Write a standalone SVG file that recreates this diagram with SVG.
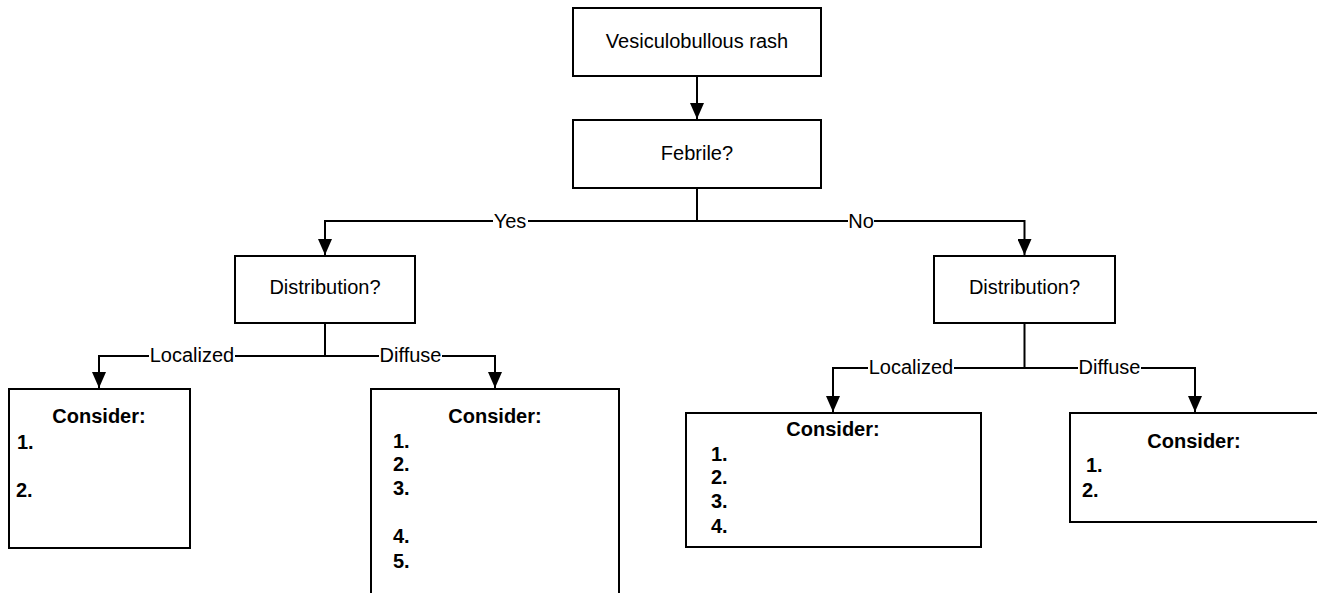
<svg xmlns="http://www.w3.org/2000/svg" width="1317" height="593" viewBox="0 0 1317 593">
<style>
.box{fill:#fff;stroke:#000;stroke-width:2}
.t{font-family:"Liberation Sans",Arial,sans-serif;font-size:20px;fill:#000}
.c{text-anchor:middle}
.b{font-weight:bold}
.ln{fill:none;stroke:#000;stroke-width:2}
.lbg{fill:#fff}
</style>
<defs>
<marker id="ah" viewBox="0 0 16 14" refX="16" refY="7" markerWidth="16" markerHeight="14" markerUnits="userSpaceOnUse" orient="auto">
<path d="M0,0 L16,7 L0,14 z" fill="#000"/>
</marker>
</defs>
<rect width="1317" height="593" fill="#fff"/>
<g id="connectors">
<path class="ln" d="M697,76 L697,119" marker-end="url(#ah)"/>
<path class="ln" d="M697,188 L697,221 L325,221 L325,255" marker-end="url(#ah)"/>
<path class="ln" d="M697,221 L1024.5,221 L1024.5,255" marker-end="url(#ah)"/>
<path class="ln" d="M325,323 L325,356 L99,356 L99,388" marker-end="url(#ah)"/>
<path class="ln" d="M325,356 L495,356 L495,388" marker-end="url(#ah)"/>
<path class="ln" d="M1024.5,323 L1024.5,368 L833,368 L833,412" marker-end="url(#ah)"/>
<path class="ln" d="M1024.5,368 L1195,368 L1195,412" marker-end="url(#ah)"/>
<rect class="lbg" x="493" y="210" width="35" height="22"/>
<text class="t c" x="510" y="228">Yes</text>
<rect class="lbg" x="848" y="210" width="26" height="22"/>
<text class="t c" x="861" y="228">No</text>
<rect class="lbg" x="149" y="345" width="86" height="22"/>
<text class="t c" x="192" y="362">Localized</text>
<rect class="lbg" x="379" y="345" width="63" height="22"/>
<text class="t c" x="410.5" y="362">Diffuse</text>
<rect class="lbg" x="868" y="357" width="86" height="22"/>
<text class="t c" x="911" y="374">Localized</text>
<rect class="lbg" x="1078" y="357" width="63" height="22"/>
<text class="t c" x="1109.5" y="374">Diffuse</text>
</g>
<g id="n-rash">
<rect class="box" x="573" y="8" width="248" height="68"/>
<text class="t c" x="697" y="48">Vesiculobullous rash</text>
</g>
<g id="n-febrile">
<rect class="box" x="573" y="120" width="248" height="68"/>
<text class="t c" x="697" y="160">Febrile?</text>
</g>
<g id="n-dist-yes">
<rect class="box" x="235" y="256" width="180" height="67"/>
<text class="t c" x="325" y="294">Distribution?</text>
</g>
<g id="n-dist-no">
<rect class="box" x="934" y="256" width="181" height="67"/>
<text class="t c" x="1024.5" y="294">Distribution?</text>
</g>
<g id="n-yes-localized">
<rect class="box" x="9" y="389" width="181" height="159"/>
<text class="t c b" x="99" y="423">Consider:</text>
<text class="t b" x="17" y="449">1.</text>
<text class="t b" x="16" y="497">2.</text>
</g>
<g id="n-yes-diffuse">
<rect class="box" x="371" y="389" width="248" height="220"/>
<text class="t c b" x="495" y="423">Consider:</text>
<text class="t b" x="393" y="448">1.</text>
<text class="t b" x="393" y="471">2.</text>
<text class="t b" x="393" y="495">3.</text>
<text class="t b" x="393" y="543">4.</text>
<text class="t b" x="393" y="568">5.</text>
</g>
<g id="n-no-localized">
<rect class="box" x="686" y="413" width="295" height="134"/>
<text class="t c b" x="833" y="436">Consider:</text>
<text class="t b" x="711" y="461">1.</text>
<text class="t b" x="711" y="484">2.</text>
<text class="t b" x="711" y="508">3.</text>
<text class="t b" x="711" y="533">4.</text>
</g>
<g id="n-no-diffuse">
<rect class="box" x="1070" y="413" width="250" height="109"/>
<text class="t c b" x="1194" y="448">Consider:</text>
<text class="t b" x="1086" y="472">1.</text>
<text class="t b" x="1082" y="497">2.</text>
</g>
</svg>
